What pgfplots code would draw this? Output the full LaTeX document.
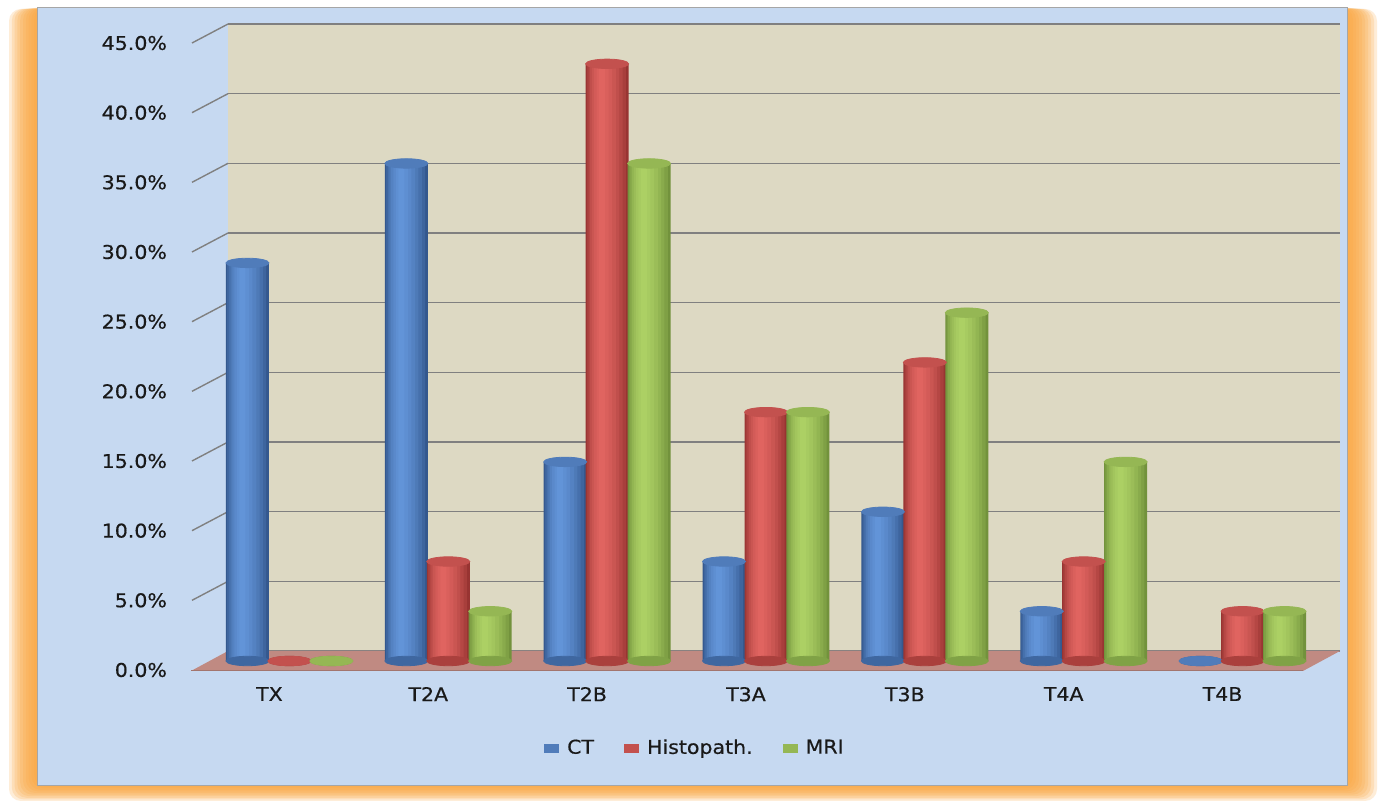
\documentclass[border=0pt]{standalone}
\usepackage{pgfplots}
\pgfplotsset{compat=1.18}
\usepackage{pgfplotstable}
\usepackage{fontspec}
\setmainfont{DejaVu Sans}[FakeStretch=1.08, FakeBold=0.5]
\definecolor{framebg}{RGB}{250,165,60}
\definecolor{panel}{RGB}{198,217,241}
\definecolor{wall}{RGB}{221,217,195}
\definecolor{gridc}{RGB}{128,128,128}
\definecolor{floorc}{RGB}{192,138,130}
\definecolor{ctdark}{RGB}{52,88,142}
\definecolor{ctlight}{RGB}{98,148,216}
\definecolor{hdark}{RGB}{152,52,50}
\definecolor{hlight}{RGB}{224,100,96}
\definecolor{mdark}{RGB}{114,146,60}
\definecolor{mlight}{RGB}{172,208,100}
\definecolor{txt}{RGB}{25,25,25}
\pgfplotstableread{
x ct h mri
0 28.57 0 0
1 35.71 7.14 3.57
2 14.29 42.86 35.71
3 7.14 17.86 17.86
4 10.71 21.43 25.00
5 3.57 7.14 14.29
6 0 3.57 3.57
}\data
\newcommand\cyl[4]{%
 \addplot[only marks, mark=*, mark size=10.75pt, color=#4!25!#3, mark options={yscale=0.22}, forget plot] table[x expr=#1, y expr=0]{\data};
 \addplot[ybar, bar width=21.5pt, bar shift=0pt, draw=none, fill=#3, forget plot] table[x expr=#1, y=#2]{\data};
 \addplot[ybar, bar width=19.5pt, bar shift=-0.4pt, draw=none, fill=#4!22!#3, forget plot] table[x expr=#1, y=#2]{\data};
 \addplot[ybar, bar width=17pt, bar shift=-0.8pt, draw=none, fill=#4!40!#3, forget plot] table[x expr=#1, y=#2]{\data};
 \addplot[ybar, bar width=14.5pt, bar shift=-1.2pt, draw=none, fill=#4!56!#3, forget plot] table[x expr=#1, y=#2]{\data};
 \addplot[ybar, bar width=12pt, bar shift=-1.6pt, draw=none, fill=#4!70!#3, forget plot] table[x expr=#1, y=#2]{\data};
 \addplot[ybar, bar width=9pt, bar shift=-2pt, draw=none, fill=#4!82!#3, forget plot] table[x expr=#1, y=#2]{\data};
 \addplot[ybar, bar width=6pt, bar shift=-2.3pt, draw=none, fill=#4!92!#3, forget plot] table[x expr=#1, y=#2]{\data};
 \addplot[ybar, bar width=3pt, bar shift=-2.5pt, draw=none, fill=#4, forget plot] table[x expr=#1, y=#2]{\data};
 \addplot[only marks, mark=*, mark size=10.75pt, color=#4!60!#3, mark options={yscale=0.22}, forget plot] table[x expr=#1, y=#2]{\data};
}
\begin{document}
\begin{tikzpicture}
\useasboundingbox (0,0) rectangle (691pt,401.5pt);
\fill[white] (0,0) rectangle (691pt,401.5pt);
\foreach \k in {1,...,10}{
  \fill[framebg, opacity=0.2, rounded corners=6pt] ({18.5pt-1.4pt*\k},{9pt-0.8pt*\k}) rectangle ({673.5pt+1.5pt*\k},{398pt-0.1pt*\k});
}
\fill[panel, draw=gray!70] (18.5pt,9pt) rectangle (673.5pt,398pt);
% back wall
\begin{axis}[
  at={(114pt,76pt)}, anchor=south west,
  scale only axis, width=556pt, height=313.5pt,
  xmin=0, xmax=1, ymin=0, ymax=45,
  xtick=\empty, ytick={0,5,...,45},
  axis line style={draw=none}, major tick length=0pt,
  axis background/.style={fill=wall},
  ymajorgrids, grid style={color=gridc, line width=0.7pt},
  /pgf/number format/assume math mode=true,
  yticklabel={\pgfmathprintnumber[fixed, fixed zerofill, precision=1]{\tick}\%},
  yticklabel style={anchor=east, xshift=-27pt, yshift=-9.5pt, font=\fontsize{9.5}{11}\selectfont, text=txt},
  clip=false,
]
\pgfplotsinvokeforeach{5,10,...,45}{
  \draw[gridc, line width=0.7pt] (axis cs:0,#1) -- ++(-18pt,-9.5pt);
}
\end{axis}
% floor
\fill[floorc] (114pt,76pt) -- (670pt,76pt) -- (651.5pt,66pt) -- (95.5pt,66pt) -- cycle;
\draw[floorc!85!black, line width=0.5pt] (651.5pt,66pt) -- (95.5pt,66pt);
% bars
\begin{axis}[
  at={(105pt,71pt)}, anchor=south west,
  scale only axis, width=556pt, height=313.5pt,
  xmin=-0.5, xmax=6.5, ymin=0, ymax=45,
  xtick={0,...,6}, xticklabels={TX,T2A,T2B,T3A,T3B,T4A,T4B},
  ytick=\empty,
  axis line style={draw=none}, major tick length=0pt,
  xticklabel style={xshift=-10pt, yshift=-9.5pt, font=\fontsize{9.5}{11}\selectfont, text=txt},
  clip=false,
  legend image code/.code={\fill[#1, draw=none] (0pt,-2.3pt) rectangle (7.5pt,2.3pt);},
  legend style={at={(0.437,-0.139)}, anchor=center, draw=none, fill=none,
    legend columns=3, font=\fontsize{9.5}{11}\selectfont, text=txt,
    /tikz/every odd column/.append style={column sep=2pt},
    /tikz/every even column/.append style={column sep=13pt}},
]
\cyl{\thisrow{x}-0.264}{ct}{ctdark}{ctlight}
\cyl{\thisrow{x}}{h}{hdark}{hlight}
\cyl{\thisrow{x}+0.264}{mri}{mdark}{mlight}
\addlegendimage{fill=ctlight!60!ctdark}
\addlegendentry{CT}
\addlegendimage{fill=hlight!60!hdark}
\addlegendentry{Histopath.}
\addlegendimage{fill=mlight!60!mdark}
\addlegendentry{MRI}
\end{axis}
\end{tikzpicture}
\end{document}
